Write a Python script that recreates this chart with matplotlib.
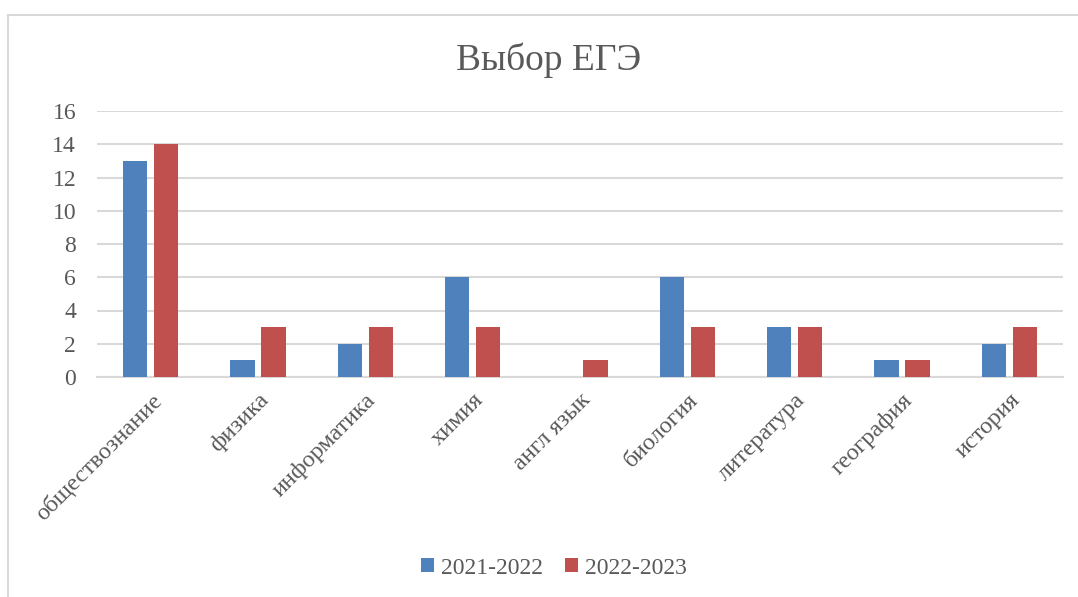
import matplotlib
matplotlib.use("Agg")
import matplotlib.pyplot as plt
import numpy as np
from matplotlib.patches import Rectangle

categories = ["обществознание", "физика", "информатика", "химия", "англ язык",
              "биология", "литература", "география", "история"]
series_2021 = [13, 1, 2, 6, 0, 6, 3, 1, 2]
series_2022 = [14, 3, 3, 3, 1, 3, 3, 1, 3]
series_names = ["2021-2022", "2022-2023"]
yticks = [0, 2, 4, 6, 8, 10, 12, 14, 16]

plt.rcParams['font.family'] = ['Liberation Serif', 'DejaVu Serif']
W, H = 1078, 597
fig = plt.figure(figsize=(W/100, H/100), dpi=100)
fig.patch.set_facecolor('white')

# outer frame (left and top visible)
fig.add_artist(Rectangle((8/W, -0.1), 1.2, (H-15)/H + 0.1, transform=fig.transFigure,
                         fill=False, edgecolor='#d9d9d9', linewidth=1.5))

left, right, top, bottom = 97, 1063, 111, 377
ax = fig.add_axes([left/W, 1-bottom/H, (right-left)/W, (bottom-top)/H])
x = np.arange(len(categories))
bw = 0.224
gap = 0.065
c1, c2 = '#4F81BD', '#C0504D'
ax.bar(x - (bw+gap)/2, series_2021, width=bw, color=c1, label=series_names[0], zorder=3)
ax.bar(x + (bw+gap)/2, series_2022, width=bw, color=c2, label=series_names[1], zorder=3)

ax.set_xlim(-0.5, len(categories)-0.5)
ax.set_ylim(0, 16)
ax.set_yticks(yticks)
ax.set_yticklabels([str(v) for v in yticks], fontsize=17, color='#595959')
ax.yaxis.grid(True, color='#d9d9d9', linewidth=1.5, zorder=0)
ax.set_axisbelow(True)
for s in ['left', 'right', 'top']:
    ax.spines[s].set_visible(False)
ax.spines['bottom'].set_color('#d9d9d9')
ax.spines['bottom'].set_linewidth(1.5)
ax.tick_params(axis='y', length=0, pad=15)
ax.tick_params(axis='x', length=0, pad=9)
ax.set_xticks(x)
ax.set_xticklabels(categories, rotation=45, ha='right', rotation_mode='anchor',
                   fontsize=17.5, color='#595959')

fig.text(549/W, 1-60/H, "Выбор ЕГЭ", ha='center', va='center', fontsize=27, color='#595959')

leg = fig.legend(loc='center', bbox_to_anchor=(554/W, 1-568/H), ncol=2, frameon=False,
                 fontsize=17, handlelength=0.55, handleheight=0.55, handletextpad=0.3,
                 columnspacing=0.95)
for t in leg.get_texts():
    t.set_color('#595959')

fig.savefig("out.png", dpi=100, facecolor='white')
